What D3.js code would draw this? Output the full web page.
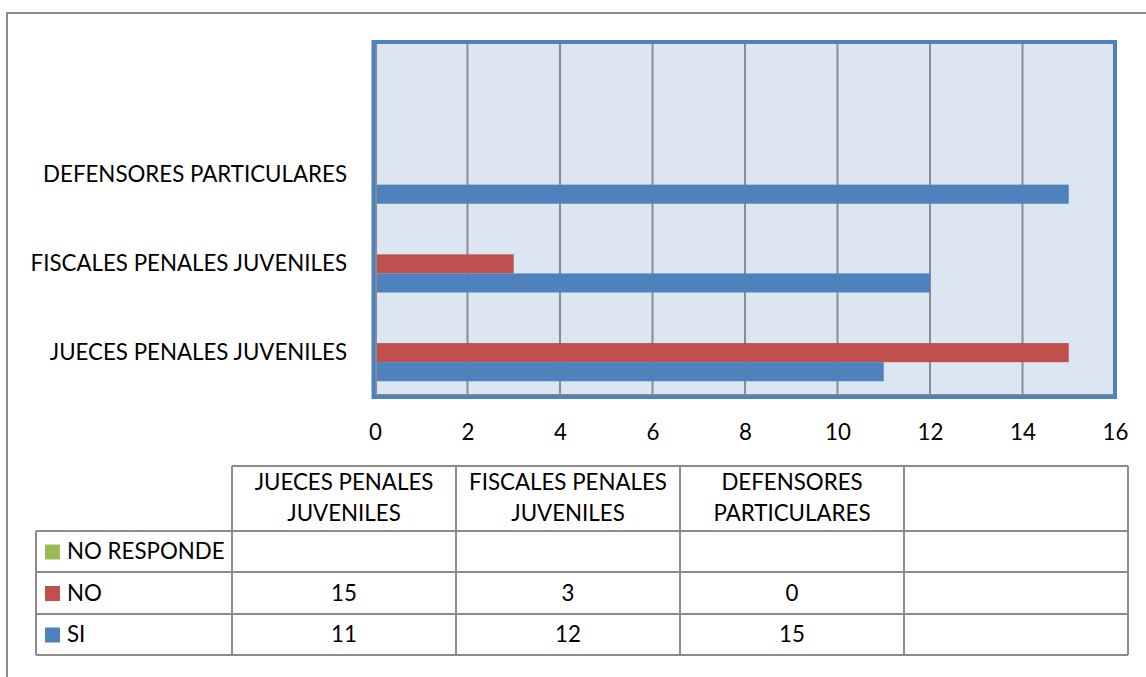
<!DOCTYPE html>
<html><head><meta charset="utf-8">
<script src="https://cdn.jsdelivr.net/npm/d3@7"></script>
<style>body{margin:0;background:#fff}svg{display:block}text{font-family:Lato,"Open Sans",sans-serif;fill:#000}</style>
</head><body><svg id="c" width="1146" height="677"></svg>
<script>
const categories = ["JUECES PENALES JUVENILES","FISCALES PENALES JUVENILES","DEFENSORES PARTICULARES",""];
const headerLines = [["JUECES PENALES","JUVENILES"],["FISCALES PENALES","JUVENILES"],["DEFENSORES","PARTICULARES"],[]];
const seriesNames = ["NO RESPONDE","NO","SI"];
const seriesColors = ["#9bbb59","#c0504d","#4f81bd"];
const noRespondeValues = [null,null,null,null];
const noValues = [15,3,0,null];
const siValues = [11,12,15,null];
const xTicks = [0,2,4,6,8,10,12,14,16];
const seriesValues = [noRespondeValues,noValues,siValues];

const svg = d3.select("#c");
const fs = 22.3;
// outer frame
svg.append("path").attr("d","M7,677 L7,13 L1146,13").attr("fill","none").attr("stroke","#8c8c8c").attr("stroke-width",2);

const X0=375, X1=1115, Y0=42, Y1=397;
const x = d3.scaleLinear().domain([0,16]).range([X0,X1]);
const y = d3.scaleBand().domain(categories.map((d,i)=>i)).range([Y1,Y0]).paddingInner(0).paddingOuter(0);
const bh = y.bandwidth()*0.215;
const sub = d3.scaleBand().domain(seriesNames).range([-1.5*bh,1.5*bh]);

svg.append("rect").attr("x",X0).attr("y",Y0).attr("width",X1-X0).attr("height",Y1-Y0).attr("fill","#dce6f2");
// grid
svg.append("g").selectAll("line").data(xTicks.filter(t=>t>0&&t<16)).join("line")
  .attr("x1",d=>x(d)).attr("x2",d=>x(d)).attr("y1",Y0).attr("y2",Y1).attr("stroke","#8c8c8c").attr("stroke-width",2);
// bars
seriesNames.forEach((s,si)=>{
  svg.append("g").selectAll("rect").data(seriesValues[si].map((v,i)=>({v,i})).filter(d=>d.v!=null&&d.v>0)).join("rect")
    .attr("x",x(0)+1).attr("y",d=>y(d.i)+y.bandwidth()/2+sub(s))
    .attr("width",d=>x(d.v)-x(0)-1).attr("height",sub.bandwidth())
    .attr("fill",seriesColors[si]);
});
// axis lines
svg.append("line").attr("x1",X0+1).attr("x2",X0+1).attr("y1",Y0).attr("y2",Y1).attr("stroke","#8c8c8c").attr("stroke-width",2);
svg.append("line").attr("x1",X0).attr("x2",X1).attr("y1",Y1-2).attr("y2",Y1-2).attr("stroke","#8c8c8c").attr("stroke-width",2);
// blue border
svg.append("rect").attr("x",X0-1.5).attr("y",Y0).attr("width",X1-X0+1.5).attr("height",Y1-Y0).attr("fill","none").attr("stroke","#4f81bd").attr("stroke-width",4);

// x axis labels
const xAxis = d3.axisBottom(x).tickValues(xTicks).tickSize(0).tickPadding(0);
const gx = svg.append("g").attr("transform",`translate(0,${Y1})`).call(xAxis);
gx.select(".domain").remove();
gx.selectAll("text").attr("font-size",fs).attr("font-family","Lato").attr("dy",null).attr("y",43).attr("fill","#000");

// category labels
svg.append("g").selectAll("text").data(categories.slice(0,3)).join("text")
  .attr("x",347).attr("y",(d,i)=>y(i)+y.bandwidth()/2+7).attr("text-anchor","end").attr("font-size",fs).text(d=>d);

// data table
const TX0=36, TC=232, colW=224, TR=[466,531,572,614,655];
const colX = i=>TC+i*colW;
const g = svg.append("g");
const st = "#8c8c8c";
g.append("line").attr("x1",TC).attr("x2",TC+4*colW).attr("y1",TR[0]).attr("y2",TR[0]).attr("stroke",st).attr("stroke-width",2);
for(let r=1;r<TR.length;r++) g.append("line").attr("x1",TX0).attr("x2",TC+4*colW).attr("y1",TR[r]).attr("y2",TR[r]).attr("stroke",st).attr("stroke-width",2);
g.append("line").attr("x1",TX0).attr("x2",TX0).attr("y1",TR[1]).attr("y2",TR[4]).attr("stroke",st).attr("stroke-width",2);
for(let c=0;c<=4;c++) g.append("line").attr("x1",colX(c)).attr("x2",colX(c)).attr("y1",TR[0]).attr("y2",TR[4]).attr("stroke",st).attr("stroke-width",2);
headerLines.forEach((ls,c)=>{
  ls.forEach((l,k)=>g.append("text").attr("x",colX(c)+colW/2).attr("y",TR[0]+24+k*31).attr("text-anchor","middle").attr("font-size",fs).text(l));
});
seriesNames.forEach((s,r)=>{
  const cy=(TR[r+1]+TR[r+2])/2;
  g.append("rect").attr("x",45).attr("y",cy-7).attr("width",15).attr("height",15).attr("fill",seriesColors[r]);
  g.append("text").attr("x",67).attr("y",cy+7.5).attr("font-size",fs).text(s);
  seriesValues[r].forEach((v,c)=>{ if(v!=null) g.append("text").attr("x",colX(c)+colW/2).attr("y",cy+7.5).attr("text-anchor","middle").attr("font-size",fs).text(v); });
});
</script></body></html>
